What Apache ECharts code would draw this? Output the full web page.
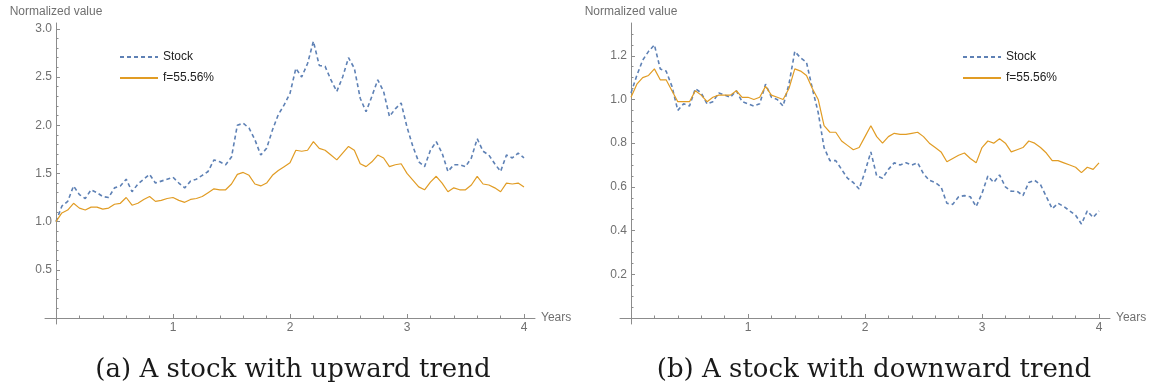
<!DOCTYPE html>
<html><head><meta charset="utf-8">
<script src="https://cdn.jsdelivr.net/npm/echarts@6/dist/echarts.min.js"></script>
<style>html,body{margin:0;padding:0;background:#fff}#c{width:1151px;height:389px}</style>
</head><body><div id="c"></div>
<script>
const years = [0,0.05,0.1,0.15,0.2,0.25,0.3,0.35,0.4,0.45,0.5,0.55,0.6,0.65,0.7,0.75,0.8,0.85,0.9,0.95,1,1.05,1.1,1.15,1.2,1.25,1.3,1.35,1.4,1.45,1.5,1.55,1.6,1.65,1.7,1.75,1.8,1.85,1.9,1.95,2,2.05,2.1,2.15,2.2,2.25,2.3,2.35,2.4,2.45,2.5,2.55,2.6,2.65,2.7,2.75,2.8,2.85,2.9,2.95,3,3.05,3.1,3.15,3.2,3.25,3.3,3.35,3.4,3.45,3.5,3.55,3.6,3.65,3.7,3.75,3.8,3.85,3.9,3.95,4];

const upStock = [1.00,1.16,1.21,1.37,1.28,1.24,1.33,1.30,1.26,1.25,
  1.35,1.37,1.44,1.31,1.39,1.44,1.49,1.40,1.42,1.44,
  1.46,1.40,1.35,1.42,1.44,1.48,1.52,1.64,1.62,1.59,
  1.67,2.00,2.02,1.97,1.85,1.69,1.76,1.95,2.11,2.21,
  2.33,2.59,2.50,2.64,2.87,2.62,2.61,2.47,2.35,2.50,
  2.70,2.59,2.28,2.14,2.30,2.47,2.35,2.09,2.17,2.23,
  1.98,1.78,1.62,1.57,1.74,1.83,1.71,1.52,1.59,1.59,
  1.57,1.66,1.86,1.73,1.69,1.60,1.52,1.69,1.66,1.71,1.66];
const upFund = [1.00,1.09,1.12,1.19,1.14,1.12,1.15,1.15,1.13,1.14,
  1.18,1.19,1.25,1.17,1.19,1.23,1.26,1.21,1.22,1.24,
  1.25,1.22,1.20,1.23,1.24,1.26,1.30,1.34,1.33,1.33,
  1.39,1.49,1.51,1.48,1.39,1.37,1.40,1.48,1.53,1.57,
  1.61,1.74,1.73,1.74,1.83,1.76,1.74,1.69,1.64,1.71,
  1.78,1.74,1.60,1.57,1.62,1.69,1.66,1.57,1.59,1.60,
  1.50,1.43,1.36,1.33,1.41,1.47,1.40,1.31,1.35,1.33,
  1.33,1.38,1.47,1.39,1.38,1.35,1.31,1.40,1.39,1.40,1.36];
const downStock = [1.03,1.11,1.18,1.22,1.25,1.14,1.13,1.06,0.95,0.98,
  0.97,1.05,1.03,0.98,0.99,1.03,1.02,1.01,1.04,0.99,
  0.98,0.97,0.98,1.07,1.01,1.00,0.97,1.07,1.22,1.19,
  1.17,1.05,0.94,0.78,0.72,0.72,0.68,0.64,0.62,0.59,
  0.67,0.76,0.65,0.64,0.68,0.71,0.70,0.71,0.70,0.71,
  0.66,0.63,0.62,0.60,0.525,0.52,0.555,0.56,0.555,0.51,
  0.57,0.65,0.62,0.655,0.60,0.58,0.58,0.56,0.62,0.63,
  0.61,0.555,0.50,0.525,0.51,0.49,0.47,0.43,0.49,0.46,0.49];
const downFund = [1.01,1.07,1.10,1.11,1.14,1.09,1.09,1.04,0.99,0.99,
  0.99,1.04,1.02,0.99,1.01,1.02,1.02,1.02,1.04,1.01,
  1.01,1.00,1.01,1.06,1.02,1.01,1.00,1.05,1.14,1.13,
  1.11,1.05,1.00,0.88,0.85,0.85,0.81,0.79,0.77,0.78,
  0.83,0.88,0.83,0.80,0.83,0.845,0.84,0.84,0.845,0.85,
  0.83,0.80,0.78,0.76,0.715,0.73,0.745,0.755,0.73,0.71,
  0.78,0.81,0.80,0.82,0.80,0.76,0.77,0.78,0.81,0.80,
  0.78,0.755,0.72,0.72,0.71,0.70,0.69,0.665,0.69,0.68,0.71];

const seriesNames = ['Stock', 'f=55.56%'];
const captions = ['(a) A stock with upward trend', '(b) A stock with downward trend'];
const xName = 'Years';
const yName = 'Normalized value';

const xMajorTicks = [0,1,2,3,4];
const xTickLabels = [1,2,3,4];
const xMinorTicks = [0.2,0.4,0.6,0.8,1.2,1.4,1.6,1.8,2.2,2.4,2.6,2.8,3.2,3.4,3.6,3.8];
const upYTickLabels = [0.5,1.0,1.5,2.0,2.5,3.0];
const upYMinorTicks = [0.1,0.2,0.3,0.4,0.6,0.7,0.8,0.9,1.1,1.2,1.3,1.4,1.6,1.7,1.8,1.9,2.1,2.2,2.3,2.4,2.6,2.7,2.8,2.9];
const downYTickLabels = [0.2,0.4,0.6,0.8,1.0,1.2];
const downYMinorTicks = [0.05,0.1,0.15,0.25,0.3,0.35,0.45,0.5,0.55,0.65,0.7,0.75,0.85,0.9,0.95,1.05,1.1,1.15,1.25,1.3];

const BLUE = '#5E81B5', ORANGE = '#E19C24';
const AXC = '#8c8c8c', LBLC = '#707070';
const SANS = '"Liberation Sans", Arial, sans-serif';

function pairs(v) { return years.map((t, i) => [t, v[i]]); }

const grids = [
  {left: 45, top: 23, width: 490, height: 301},
  {left: 620, top: 23, width: 490, height: 301}
];
const yRanges = [[-0.062, 3.06], [-0.0275, 1.35]];
const yLabelSets = [upYTickLabels, downYTickLabels];
const yMinorSets = [upYMinorTicks, downYMinorTicks];

const xAxis = [], yAxis = [];
[0, 1].forEach(g => {
  xAxis.push({
    gridIndex: g, type: 'value', min: -0.094, max: 4.094, position: 'bottom',
    axisLine: {show: true, onZero: true, onZeroAxisIndex: 2 * g, lineStyle: {color: AXC, width: 1}},
    axisTick: {show: true, inside: true, length: 4, customValues: xMajorTicks, lineStyle: {color: AXC}},
    axisLabel: {show: true, customValues: xTickLabels, margin: -2, color: LBLC, fontSize: 12, fontFamily: SANS,
      formatter: v => String(v)},
    splitLine: {show: false},
    name: xName, nameLocation: 'end', nameGap: 6,
    nameTextStyle: {color: LBLC, fontSize: 12, fontFamily: SANS}
  });
  xAxis.push({
    gridIndex: g, type: 'value', min: -0.094, max: 4.094, position: 'bottom',
    axisLine: {show: false, onZero: true, onZeroAxisIndex: 2 * g + 1},
    axisTick: {show: true, inside: true, length: 2.5, customValues: xMinorTicks, lineStyle: {color: AXC}},
    axisLabel: {show: false}, splitLine: {show: false}
  });
  yAxis.push({
    gridIndex: g, type: 'value', min: yRanges[g][0], max: yRanges[g][1], position: 'left',
    axisLine: {show: true, onZero: true, onZeroAxisIndex: 2 * g, lineStyle: {color: AXC, width: 1}},
    axisTick: {show: true, inside: true, length: 4, customValues: yLabelSets[g], lineStyle: {color: AXC}},
    axisLabel: {show: true, customValues: yLabelSets[g], margin: -7, color: LBLC, fontSize: 12, fontFamily: SANS,
      formatter: v => v.toFixed(1)},
    splitLine: {show: false},
    name: yName, nameLocation: 'end', nameGap: 5,
    nameTextStyle: {color: LBLC, fontSize: 12, fontFamily: SANS}
  });
  yAxis.push({
    gridIndex: g, type: 'value', min: yRanges[g][0], max: yRanges[g][1], position: 'left',
    axisLine: {show: false, onZero: true, onZeroAxisIndex: 2 * g + 1},
    axisTick: {show: true, inside: true, length: 2.5, customValues: yMinorSets[g], lineStyle: {color: AXC}},
    axisLabel: {show: false}, splitLine: {show: false}
  });
});

function lineSeries(name, g, values, dashed) {
  return {
    type: 'line', name: name, xAxisIndex: 2 * g, yAxisIndex: 2 * g,
    data: pairs(values), symbol: 'none', showSymbol: false, smooth: false,
    lineStyle: dashed ? {color: BLUE, width: 1.6, type: [4, 3]} : {color: ORANGE, width: 1.2},
    itemStyle: {color: dashed ? BLUE : ORANGE},
    emphasis: {disabled: true}, animation: false
  };
}

const option = {
  backgroundColor: '#fff',
  animation: false,
  grid: grids,
  xAxis: xAxis,
  yAxis: yAxis,
  legend: [119, 962].map(l => ({
    left: l, top: 51, padding: 0, orient: 'vertical', itemWidth: 38, itemHeight: 14, itemGap: 9,
    selectedMode: false, data: seriesNames,
    itemStyle: {opacity: 0},
    textStyle: {color: '#222', fontSize: 12, fontFamily: SANS}
  })),
  title: [293, 874].map((c, i) => ({
    text: captions[i], left: c, top: 357, textAlign: 'center', padding: 0,
    textStyle: {fontFamily: '"DejaVu Serif", serif', fontSize: 26, fontWeight: 'normal', color: '#1a1a1a'}
  })),
  series: [
    lineSeries(seriesNames[0], 0, upStock, true),
    lineSeries(seriesNames[1], 0, upFund, false),
    lineSeries(seriesNames[0], 1, downStock, true),
    lineSeries(seriesNames[1], 1, downFund, false)
  ]
};
const chart = echarts.init(document.getElementById('c'), null, {renderer: 'canvas'});
chart.setOption(option);
</script></body></html>
